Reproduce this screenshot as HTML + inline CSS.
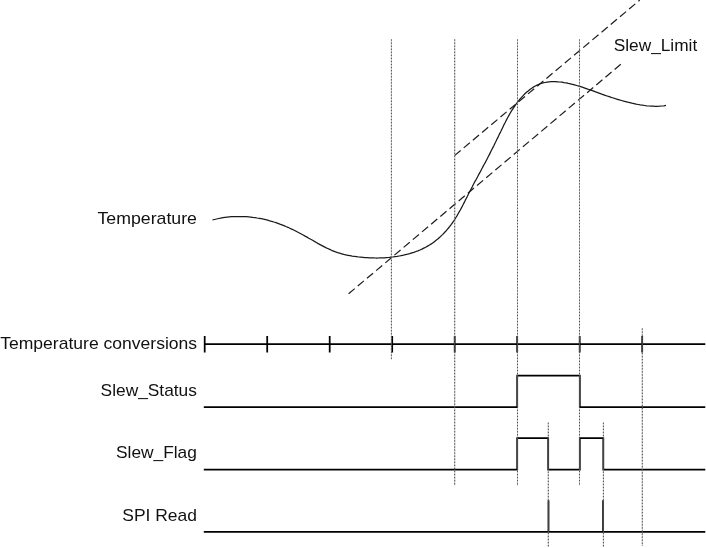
<!DOCTYPE html>
<html>
<head>
<meta charset="utf-8">
<title>Slew diagram</title>
<style>
html,body{margin:0;padding:0;background:#fff;}
body{width:706px;height:548px;overflow:hidden;font-family:"Liberation Sans",sans-serif;}
svg{display:block;will-change:transform;}
text{font-family:"Liberation Sans",sans-serif;font-size:17px;fill:#111;}
.h{stroke:#000;stroke-width:1.75;fill:none;stroke-linejoin:miter;}
.d0{stroke:#cbcbcb;stroke-width:1;fill:none;}
.d{stroke:#4c4c4c;stroke-width:1;stroke-dasharray:1.3 1.76;fill:none;}
.g{stroke:#1c1c1c;stroke-width:1.2;stroke-dasharray:8 4;fill:none;}
.c{stroke:#1a1a1a;stroke-width:1.25;stroke-linejoin:round;fill:none;}
</style>
</head>
<body>
<svg width="706" height="548" viewBox="0 0 706 548">
<rect width="706" height="548" fill="#fff"/>
<!-- thin vertical dashed guides -->
<path class="d0" d="M391.4,39.4V359.5 M454.7,39.4V485.5 M517.5,39.4V485.5 M579.5,39.4V485.5 M642.3,328.4V546 M548.3,422.6V547 M603.4,422.6V547"/>
<!-- slew limit dashed diagonals -->
<line class="g" x1="348.6" y1="293.8" x2="621" y2="64.1"/>
<line class="g" x1="454.5" y1="155.6" x2="639.7" y2="0.2"/>
<!-- temperature curve -->
<path class="c" d="M212.4,220.0 L214.5,219.5 L216.6,219.0 L218.7,218.5 L220.8,218.1 L222.9,217.7 L225.0,217.4 L227.2,217.1 L229.3,216.9 L231.4,216.7 L233.6,216.6 L235.7,216.5 L237.9,216.5 L240.0,216.5 L242.1,216.5 L244.3,216.6 L246.4,216.7 L248.6,216.9 L250.7,217.1 L252.9,217.4 L255.0,217.6 L257.1,218.0 L259.2,218.3 L261.4,218.7 L263.5,219.2 L265.6,219.7 L267.7,220.2 L269.7,220.8 L271.8,221.3 L273.9,222.0 L275.9,222.6 L277.9,223.3 L279.9,224.1 L281.9,224.8 L283.9,225.6 L285.9,226.5 L287.9,227.3 L289.8,228.2 L291.7,229.1 L293.7,230.0 L295.6,231.0 L297.5,232.0 L299.4,233.0 L301.3,234.0 L303.2,235.0 L305.1,236.1 L307.0,237.1 L308.8,238.2 L310.7,239.3 L312.6,240.3 L314.4,241.4 L316.3,242.5 L318.2,243.6 L320.1,244.6 L322.0,245.6 L323.9,246.6 L325.8,247.6 L327.7,248.5 L329.7,249.4 L331.6,250.3 L333.6,251.1 L335.6,251.9 L337.6,252.6 L339.6,253.2 L341.7,253.8 L343.8,254.4 L345.8,254.9 L347.9,255.3 L350.1,255.7 L352.2,256.1 L354.3,256.4 L356.4,256.7 L358.6,257.0 L360.7,257.2 L362.9,257.4 L365.0,257.6 L367.2,257.7 L369.3,257.8 L371.5,257.9 L373.6,257.9 L375.8,258.0 L377.9,258.0 L380.1,257.9 L382.2,257.9 L384.3,257.8 L386.4,257.6 L388.6,257.5 L390.7,257.2 L392.8,257.0 L395.0,256.7 L397.1,256.4 L399.2,256.0 L401.3,255.6 L403.4,255.2 L405.5,254.7 L407.6,254.2 L409.7,253.6 L411.8,252.9 L413.9,252.3 L415.9,251.5 L417.9,250.8 L419.9,250.0 L421.9,249.1 L423.8,248.1 L425.7,247.2 L427.6,246.1 L429.5,245.0 L431.3,243.9 L433.0,242.7 L434.7,241.4 L436.4,240.1 L438.1,238.7 L439.7,237.3 L441.2,235.9 L442.8,234.4 L444.3,232.8 L445.7,231.3 L447.1,229.6 L448.5,228.0 L449.8,226.3 L451.1,224.6 L452.4,222.8 L453.6,221.1 L454.8,219.3 L455.9,217.5 L457.1,215.6 L458.1,213.8 L459.2,211.9 L460.3,210.0 L461.3,208.1 L462.3,206.2 L463.3,204.3 L464.3,202.4 L465.2,200.4 L466.2,198.5 L467.2,196.6 L468.1,194.7 L469.1,192.8 L470.1,190.9 L471.1,189.0 L472.1,187.1 L473.0,185.2 L474.0,183.3 L475.0,181.4 L476.1,179.6 L477.1,177.7 L478.1,175.8 L479.1,173.9 L480.1,172.1 L481.1,170.2 L482.1,168.3 L483.1,166.4 L484.1,164.5 L485.2,162.6 L486.2,160.7 L487.2,158.7 L488.2,156.8 L489.2,154.9 L490.2,152.9 L491.1,151.0 L492.1,149.0 L493.1,147.1 L494.1,145.2 L495.0,143.2 L496.0,141.3 L496.9,139.3 L497.9,137.4 L498.8,135.5 L499.7,133.6 L500.7,131.7 L501.6,129.8 L502.5,127.9 L503.4,126.0 L504.3,124.1 L505.3,122.3 L506.2,120.4 L507.2,118.5 L508.2,116.7 L509.2,114.9 L510.3,113.0 L511.4,111.2 L512.5,109.4 L513.7,107.6 L514.9,105.8 L516.2,104.0 L517.5,102.2 L518.9,100.5 L520.3,98.7 L521.8,97.1 L523.4,95.4 L524.9,93.8 L526.5,92.3 L528.2,90.9 L529.9,89.5 L531.7,88.3 L533.4,87.1 L535.3,86.0 L537.1,85.1 L539.1,84.2 L541.0,83.5 L543.0,82.9 L545.0,82.5 L547.1,82.1 L549.1,81.9 L551.2,81.7 L553.4,81.6 L555.5,81.7 L557.6,81.8 L559.8,82.0 L561.9,82.2 L564.0,82.6 L566.2,82.9 L568.3,83.4 L570.4,83.8 L572.5,84.3 L574.6,84.9 L576.7,85.5 L578.8,86.1 L580.8,86.7 L582.9,87.4 L584.9,88.1 L586.9,88.8 L589.0,89.5 L591.0,90.2 L593.0,90.9 L595.0,91.7 L597.0,92.4 L599.0,93.1 L601.1,93.9 L603.1,94.6 L605.1,95.3 L607.1,96.0 L609.2,96.7 L611.2,97.4 L613.3,98.0 L615.3,98.7 L617.4,99.3 L619.4,99.9 L621.5,100.5 L623.6,101.1 L625.7,101.6 L627.7,102.2 L629.8,102.7 L631.9,103.2 L634.0,103.6 L636.1,104.1 L638.2,104.5 L640.3,104.9 L642.5,105.2 L644.6,105.5 L646.7,105.8 L648.8,106.0 L651.0,106.1 L653.1,106.2 L655.2,106.3 L657.4,106.3 L659.5,106.2 L661.7,106.0 L663.9,105.8 L666.0,105.4"/>
<!-- temperature conversions -->
<path class="h" d="M203.8,344.2H705.3 M204.7,336V352.6 M267.2,336V352.6 M329.7,336V352.6 M392.2,336V352.6 M454.7,336V352.6 M517.2,336V352.6 M579.7,336V352.6 M642.2,336V352.6"/>
<!-- Slew_Status -->
<path class="h" d="M203.8,407H517.2V375.6H579.8V407H705.3"/>
<!-- Slew_Flag -->
<path class="h" d="M203.8,469.5H517.2V438.2H548.2V469.5H579.8V438.2H603.3V469.5H705.3"/>
<!-- SPI Read -->
<path class="h" d="M203.8,531.8H705.3 M548.5,500.2V532 M603.1,500.2V532"/>
<!-- guide dashes drawn above heavy lines -->
<path class="d0" style="opacity:.35" d="M391.4,39.4V359.5 M454.7,39.4V485.5 M517.5,39.4V485.5 M579.5,39.4V485.5 M642.3,328.4V546 M548.3,422.6V547 M603.4,422.6V547"/>
<path class="d" d="M391.4,39.4V359.5 M454.7,39.4V485.5 M517.5,39.4V485.5 M579.5,39.4V485.5 M642.3,328.4V546 M548.3,422.6V547 M603.4,422.6V547"/>
<!-- labels -->
<g class="t">
<text transform="translate(196.9,224) scale(1.042,1)" text-anchor="end">Temperature</text>
<text transform="translate(197.1,349) scale(1.032,1)" text-anchor="end">Temperature conversions</text>
<text transform="translate(196.9,396) scale(1.02,1)" text-anchor="end">Slew_Status</text>
<text transform="translate(196.9,458.1) scale(1.02,1)" text-anchor="end">Slew_Flag</text>
<text transform="translate(196.9,521) scale(1.026,1)" text-anchor="end">SPI Read</text>
<text transform="translate(613.7,51.1) scale(1.017,1)">Slew_Limit</text>
</g>
</svg>
</body>
</html>
